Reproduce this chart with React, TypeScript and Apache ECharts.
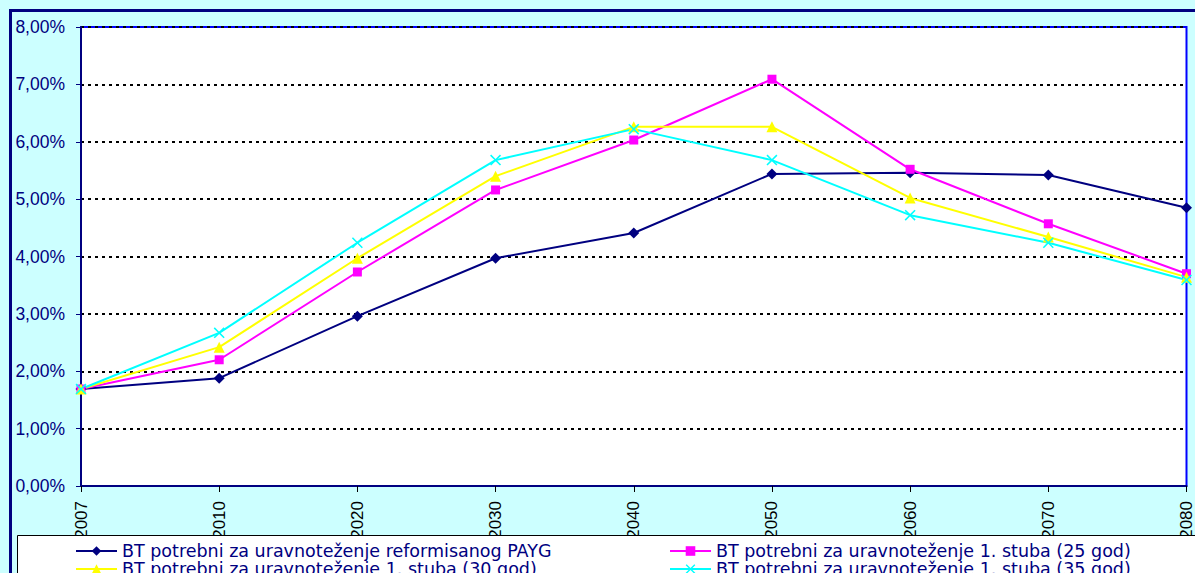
import React, { useEffect, useRef } from "react";
import * as echarts from "echarts";

// Years on the horizontal axis
const years = ["2007", "2010", "2020", "2030", "2040", "2050", "2060", "2070", "2080"];

// Shares in percent
const paygReform = [1.69, 1.88, 2.96, 3.97, 4.41, 5.44, 5.46, 5.42, 4.85];
const pillar25 = [1.69, 2.2, 3.73, 5.16, 6.03, 7.09, 5.52, 4.57, 3.7];
const pillar30 = [1.69, 2.42, 3.97, 5.4, 6.26, 6.26, 5.02, 4.34, 3.64];
const pillar35 = [1.69, 2.67, 4.24, 5.68, 6.22, 5.68, 4.72, 4.24, 3.59];

const seriesNames = [
  "BT potrebni za uravnoteženje reformisanog PAYG",
  "BT potrebni za uravnoteženje 1. stuba (25 god)",
  "BT potrebni za uravnoteženje 1. stuba (30 god)",
  "BT potrebni za uravnoteženje 1. stuba (35 god)",
];

const NAVY = "#000080";
const FONT = "Arial, 'Liberation Sans', sans-serif";
const LEGEND_FONT = "'DejaVu Sans', Arial, sans-serif";

// Diagonal cross marker as a filled outline
const CROSS = "path://M0,1L1,0L5,4L9,0L10,1L6,5L10,9L9,10L5,6L1,10L0,9L4,5Z";

export default function App() {
  const ref = useRef<HTMLDivElement>(null);

  useEffect(() => {
    if (!ref.current) return;
    const chart = echarts.init(ref.current, null, { renderer: "svg" });

    const lineSeries = (
      name: string,
      data: number[],
      color: string,
      symbol: string,
      symbolSize: number
    ) => ({
      name,
      type: "line",
      data,
      symbol,
      symbolSize,
      showAllSymbol: true,
      lineStyle: { color, width: 2 },
      itemStyle: { color, borderColor: color, borderWidth: 0 },
      z: 5,
    });

    const legendBase = {
      orient: "vertical",
      itemWidth: 41,
      itemHeight: 12,
      itemGap: 0,
      height: 80,
      textStyle: { color: NAVY, fontSize: 17.5, fontFamily: LEGEND_FONT, lineHeight: 17 },
      z: 30,
      padding: 0,
    };

    chart.setOption({
      animation: false,
      backgroundColor: "#CCFFFF",
      grid: {
        left: 81,
        right: 8,
        top: 27,
        bottom: 87,
        show: true,
        backgroundColor: "#FFFFFF",
        borderColor: "#0000FF",
        borderWidth: 2,
      },
      xAxis: {
        type: "category",
        data: years,
        boundaryGap: false,
        axisLine: { lineStyle: { color: NAVY, width: 2 } },
        axisTick: { show: true, length: 6, lineStyle: { color: "#000", width: 1 } },
        axisLabel: {
          rotate: 90,
          margin: 15,
          color: "#000",
          fontSize: 17,
          fontFamily: FONT,
          interval: 0,
        },
        splitLine: { show: false },
      },
      yAxis: {
        type: "value",
        min: 0,
        max: 8,
        interval: 1,
        axisLine: { show: true, lineStyle: { color: NAVY, width: 2 } },
        axisTick: { show: true, length: 5, lineStyle: { color: NAVY, width: 1 } },
        axisLabel: {
          margin: 16,
          color: NAVY,
          fontSize: 17.5,
          fontFamily: FONT,
          formatter: (v: number) => v.toFixed(2).replace(".", ",") + "%",
        },
        splitLine: {
          show: true,
          lineStyle: { color: "#000", width: 2, type: [3, 4] },
        },
      },
      legend: [
        {
          ...legendBase,
          left: 75,
          top: 542,
          data: [seriesNames[0], seriesNames[2]],
        },
        {
          ...legendBase,
          left: 669,
          top: 542,
          data: [seriesNames[1], seriesNames[3]],
        },
      ],
      graphic: [
        {
          type: "rect",
          z: 20,
          shape: { x: 10.5, y: 10.5, width: 1400, height: 800 },
          style: { fill: "none", stroke: NAVY, lineWidth: 3 },
        },
        {
          type: "rect",
          z: 20,
          shape: { x: 17.5, y: 535.5, width: 1400, height: 100 },
          style: { fill: "#FFFFFF", stroke: "#000", lineWidth: 1 },
        },
      ],
      series: [
        lineSeries(seriesNames[0], paygReform, NAVY, "diamond", 11),
        lineSeries(seriesNames[1], pillar25, "#FF00FF", "rect", 9),
        lineSeries(seriesNames[2], pillar30, "#FFFF00", "triangle", 11),
        lineSeries(seriesNames[3], pillar35, "#00FFFF", CROSS, 11),
      ],
    });

    return () => chart.dispose();
  }, []);

  return (
    <div
      ref={ref}
      style={{ position: "fixed", left: 0, top: 0, width: 1195, height: 573 }}
    />
  );
}
